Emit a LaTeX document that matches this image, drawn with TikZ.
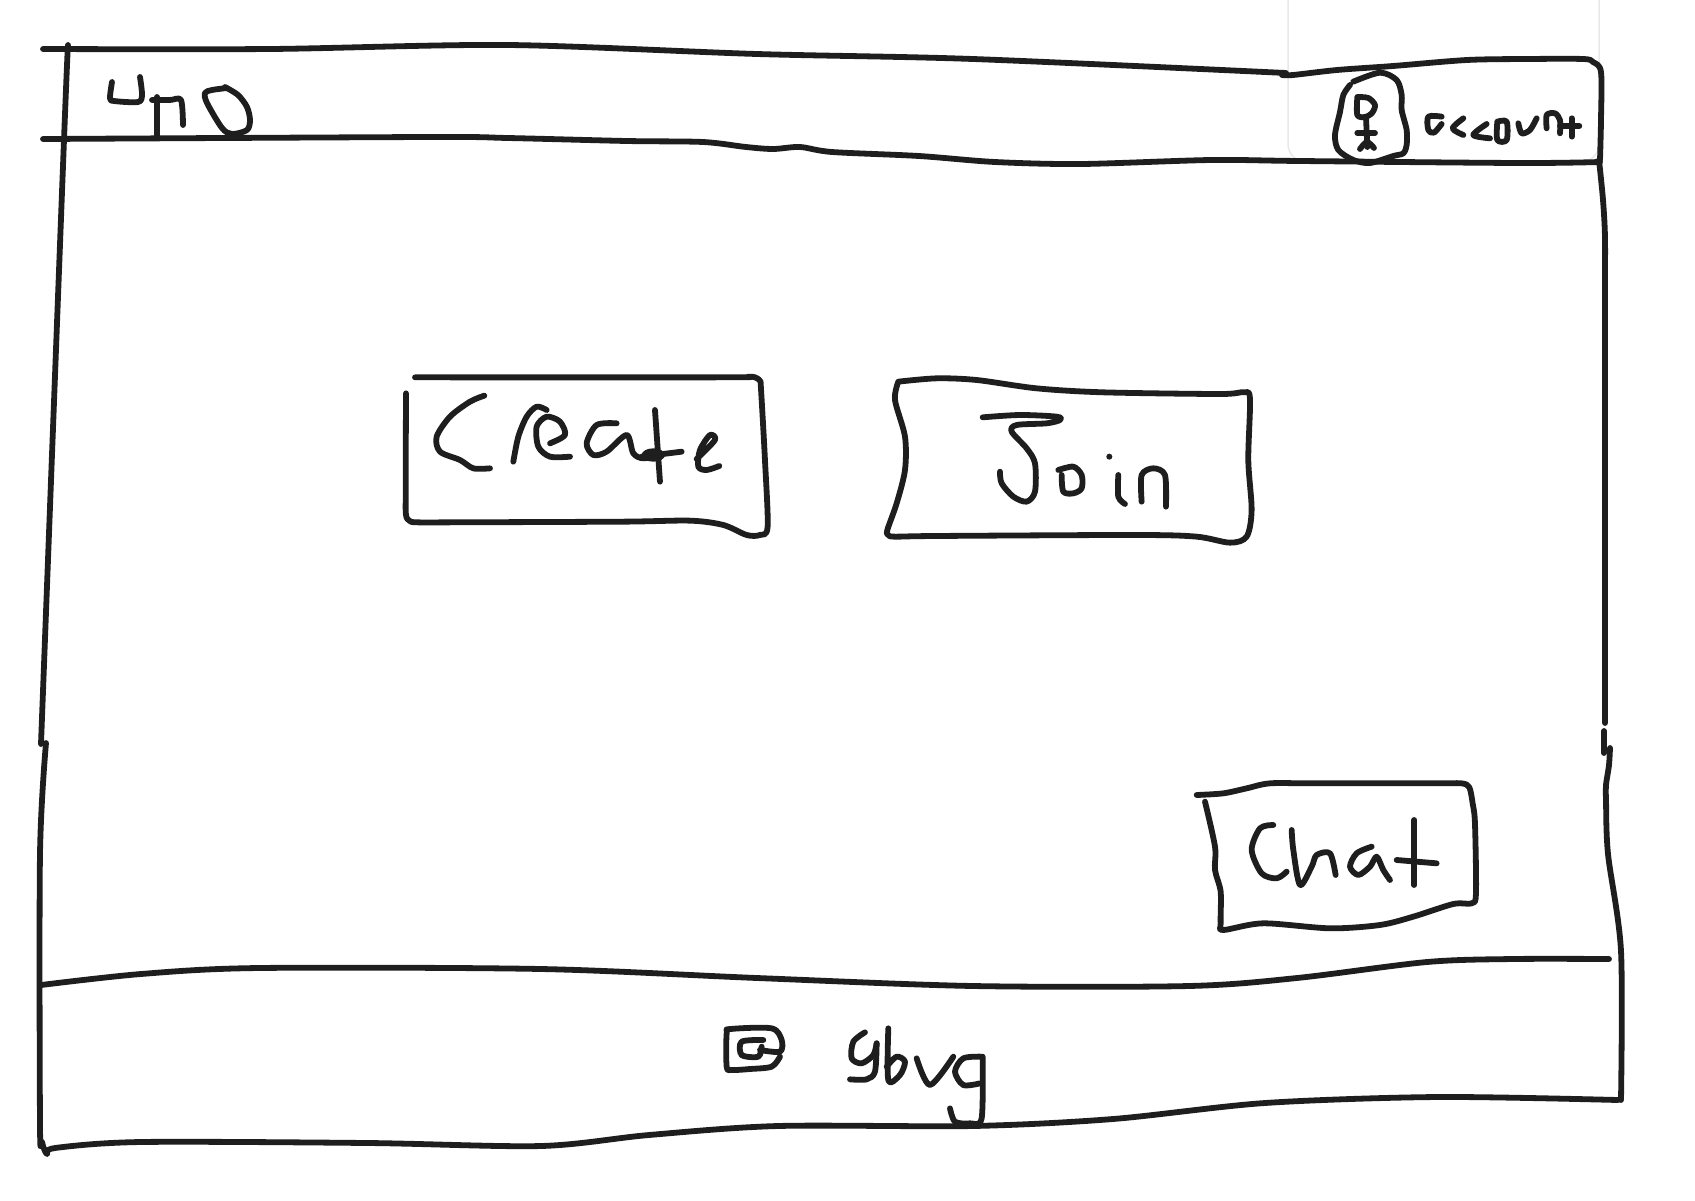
\documentclass[tikz,border=0pt]{standalone}
\definecolor{inkc}{HTML}{1E1E1E}
\definecolor{frame}{HTML}{E8E8E8}
\tikzset{
  ink/.style={draw=inkc,line width=5.8pt,line cap=round,line join=round},
  ghost/.style={draw=frame,line width=1.5pt},
  zoomed/.style={x=0.3333pt,y=-0.3333pt}
}
\newcommand{\st}[1]{\draw[ink] plot[smooth,tension=0.5] coordinates {#1};}
\begin{document}
\begin{tikzpicture}[x=1pt,y=-1pt]
\useasboundingbox (0,0) rectangle (1695,1200);
\fill[white] (0,0) rectangle (1695,1200);
% faint frame
\draw[ghost,rounded corners=18pt] (1288,0) -- (1288,162) -- (1599,162) -- (1599,0);
% window outline
\st{(43,49)(270,49)(508,45)(757,54)(973,59)(1286,73)}
\st{(1282,75)(1293,75)(1337,70)(1393,66)(1467,60)(1527,59)(1583,59)(1593,62)(1601,72)(1601,120)(1600,160)}
\st{(43,139)(432,137)(508,138)(627,141)(703,142)(746,147)(773,149)(800,147)(832,152)(919,156)(995,162)(1081,164)(1211,160)(1300,161)(1520,163)(1600,162)}
\st{(68,45)(64,140)(41,744)}
\st{(1599,160)(1603,200)(1605,238)(1605,303)(1605,723)}
\st{(1604,731)(1604,753)}
\st{(1610,748)(1609,765)(1606,785)(1606,800)(1608,854)(1621,951)(1621,1100)}
\st{(1618,1100)(1438,1097)(1265,1103)(1113,1119)(973,1126)(778,1126)(649,1135)(541,1146)(368,1143)(141,1142)(55,1148)(47,1154)(42,1142)(40,1124)(40,854)(46,743)}
\st{(41,985)(141,974)(259,968)(541,969)(757,978)(973,986)(1189,986)(1297,978)(1427,962)(1513,959)(1609,959)}
% uno
\st{(112,82)(110,98)(114,101)(138,102)(142,95)(140,77)}
\draw[ink] (157,97) -- (157,138);
\st{(152,100)(170,100)(181,100)(183,125)}
\st{(225,87)(238,95)(247,107)(250,120)(247,130)(232,134)(222,128)(207,103)(205,93)(212,90)(227,88)}
% account icon and word
\begin{scope}[zoomed,xshift=1260pt,yshift=0pt]
\st{(280,245)(360,218)(410,240)(425,285)(425,330)(440,390)(440,435)(430,460)(400,468)(330,489)(280,480)(235,450)(225,405)(240,336)(250,285)(270,255)}
\st{(292,291)(325,294)(345,315)(336,339)(315,351)(292,345)(292,291)}
\draw[ink] (318,351) -- (322,441);
\draw[ink] (292,399) -- (345,399);
\st{(300,447)(321,426)(342,444)}
\st{(545,350)(505,350)(505,390)(522,398)(545,372)}
\st{(610,355)(578,385)(610,405)}
\st{(680,372)(640,405)(690,415)}
\st{(712,365)(740,365)(740,420)(712,420)(712,365)}
\st{(775,370)(785,400)(810,390)(830,355)}
\st{(860,385)(860,345)(885,340)(900,360)(900,400)}
\draw[ink] (935,355) -- (935,410);
\draw[ink] (900,378) -- (958,378);
\end{scope}
% Create
\begin{scope}[zoomed,xshift=390pt,yshift=-360pt]
\st{(75,52)(1000,52)(1075,50)(1095,52)(1110,62)(1113,85)(1125,300)(1133,500)(1110,525)(1070,525)(1000,495)(900,482)(700,485)(200,487)(80,487)(58,482)(48,465)(47,400)(48,100)}
\st{(283,107)(240,125)(180,170)(140,230)(150,275)(210,300)(250,325)(300,325)}
\st{(370,305)(385,230)(410,170)(440,140)(470,150)}
\st{(480,250)(525,225)(510,185)(470,170)(440,200)(445,260)(480,290)(540,290)}
\st{(680,190)(620,195)(590,250)(610,285)(650,275)(710,225)(730,280)(760,295)(810,285)}
\draw[ink] (795,150) -- (810,365);
\draw[ink] (755,290) -- (875,275);
\fill[inkc] (790,285) ellipse (35 and 20);
\st{(920,297)(975,240)(960,225)(930,270)(925,320)(950,330)(988,318)}
\end{scope}
% Join
\begin{scope}[zoomed,xshift=870pt,yshift=-360pt]
\st{(85,65)(200,55)(320,60)(500,85)(700,97)(1050,102)(1120,97)(1140,115)(1135,300)(1145,450)(1130,530)(1080,548)(980,530)(800,525)(200,528)(75,530)(55,525)(52,510)(80,430)(105,330)(105,230)(75,120)(85,65)}
\st{(338,172)(450,165)(560,170)(570,180)(530,190)(440,195)(425,215)(470,265)(495,310)(495,395)(470,425)(430,410)(395,370)(390,335)}
\st{(565,330)(610,320)(635,345)(635,385)(610,400)(580,395)(575,345)}
\fill[inkc] (718,290) circle (9);
\st{(745,345)(745,410)(765,432)}
\st{(815,425)(815,345)(850,325)(885,345)(888,440)}
\end{scope}
% Chat
\begin{scope}[zoomed,xshift=1180pt,yshift=-760pt]
\st{(50,105)(130,100)(200,85)(270,70)(400,70)(780,70)(845,70)(868,82)(878,130)(885,190)(888,400)(875,430)(820,432)(700,470)(600,495)(450,505)(250,490)(130,510)(122,490)(122,395)(105,330)(105,260)(75,125)}
\st{(280,195)(240,205)(215,270)(245,340)(290,355)(320,335)}
\st{(335,210)(340,270)(360,375)(395,320)(410,285)(450,280)(467,345)}
\st{(575,260)(530,280)(510,320)(535,345)(570,320)(590,290)(610,330)(630,360)}
\draw[ink] (703,180) -- (703,375);
\draw[ink] (650,300) -- (770,310);
\end{scope}
% bottom icon and gbvg
\begin{scope}[zoomed,xshift=700pt,yshift=-1000pt]
\st{(240,170)(215,200)(150,207)(95,210)(80,200)(80,100)(92,87)(215,85)(245,120)(240,155)(180,150)}
\st{(190,120)(125,125)(125,165)(175,170)(185,140)}
\st{(495,97)(460,125)(455,175)(485,190)(520,165)(530,130)}
\st{(530,130)(525,215)(500,238)(450,238)}
\st{(565,85)(565,240)(600,225)(615,185)(590,170)(560,200)}
\st{(650,175)(690,255)(760,170)}
\st{(845,170)(790,175)(765,215)(790,255)(840,250)}
\st{(848,170)(845,355)(810,370)(765,365)(750,325)}
\end{scope}
\end{tikzpicture}
\end{document}
